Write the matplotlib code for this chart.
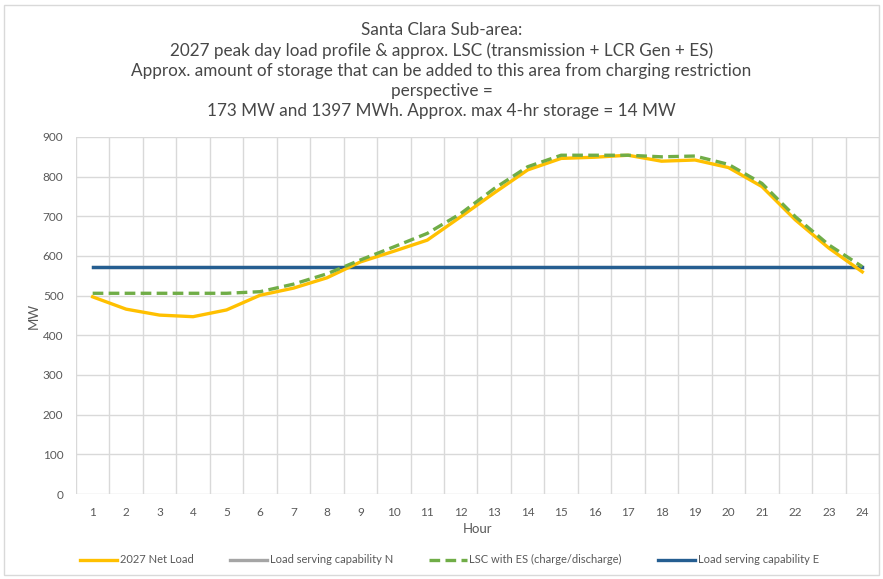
import matplotlib
matplotlib.use("Agg")
import matplotlib.pyplot as plt
from matplotlib.patches import Rectangle
from matplotlib.lines import Line2D

hours = list(range(1, 25))
net_load = [497, 466, 451, 447, 464, 501, 519, 545, 585, 612, 640, 699,
            759, 817, 846, 849, 854, 839, 842, 823, 775, 691, 620, 560]
lsc_n = [571] * 24
lsc_es = [506, 506, 506, 506, 506, 510, 529, 555, 590, 623, 657, 707,
          770, 825, 854, 854, 854, 850, 852, 831, 783, 699, 628, 573]
lsc_e = [571] * 24
yticks = [0, 100, 200, 300, 400, 500, 600, 700, 800, 900]

title = ("Santa Clara Sub-area:\n"
         "2027 peak day load profile & approx. LSC (transmission + LCR Gen + ES)\n"
         "Approx. amount of storage that can be added to this area from charging restriction\n"
         "perspective =\n"
         "173 MW and 1397 MWh. Approx. max 4-hr storage = 14 MW")

plt.rcParams['font.family'] = ['Lato', 'DejaVu Sans']
fig = plt.figure(figsize=(8.83, 5.79), dpi=100)
fig.patches.append(Rectangle((0.004, 0.007), 0.992, 0.985, transform=fig.transFigure,
                             fill=False, edgecolor='#d9d9d9', linewidth=1))
ax = fig.add_axes([0.086, 0.1468, 0.9095, 0.6166])

ax.plot(hours, lsc_n, color='#a5a5a5', linewidth=2.4, label='Load serving capability N')
ax.plot(hours, lsc_e, color='#255e91', linewidth=2.4, label='Load serving capability E')
ax.plot(hours, net_load, color='#ffc000', linewidth=2.4, label='2027 Net Load')
ax.plot(hours, lsc_es, color='#70ad47', linewidth=2.4, linestyle=(0, (3.2, 1.6)),
        label='LSC with ES (charge/discharge)')

ax.set_xlim(0.5, 24.5)
ax.set_ylim(0, 900)
ax.set_yticks(yticks)
ax.set_xticks(hours)
ax.set_xticks([h - 0.5 for h in hours] + [24.5], minor=True)
ax.grid(which='major', axis='y', color='#d9d9d9', linewidth=1)
ax.grid(which='minor', axis='x', color='#d9d9d9', linewidth=1)
ax.set_axisbelow(True)
for s in ax.spines.values():
    s.set_visible(False)
ax.tick_params(which='both', length=0, labelsize=8.5, labelcolor='#595959')
ax.tick_params(axis='x', pad=9)
ax.tick_params(axis='y', pad=9)
ax.set_xlabel('Hour', fontsize=9.5, color='#595959', labelpad=4)
ax.set_ylabel('MW', fontsize=9.5, color='#595959', labelpad=2)

fig.text(0.5, 0.962, title, ha='center', va='top', fontsize=12.3, color='#474747',
         linespacing=1.32)

handles = [Line2D([], [], color='#ffc000', lw=2.4),
           Line2D([], [], color='#a5a5a5', lw=2.4),
           Line2D([], [], color='#70ad47', lw=2.4, linestyle=(0, (3.2, 1.6))),
           Line2D([], [], color='#255e91', lw=2.4)]
labels = ['2027 Net Load', 'Load serving capability N',
          'LSC with ES (charge/discharge)', 'Load serving capability E']
fig.legend(handles, labels, loc='center', bbox_to_anchor=(0.509, 0.033), ncol=4,
           frameon=False, fontsize=8, labelcolor='#595959', handlelength=3.4,
           handletextpad=0.25, columnspacing=3.2)

fig.savefig('out.png', dpi=100)
